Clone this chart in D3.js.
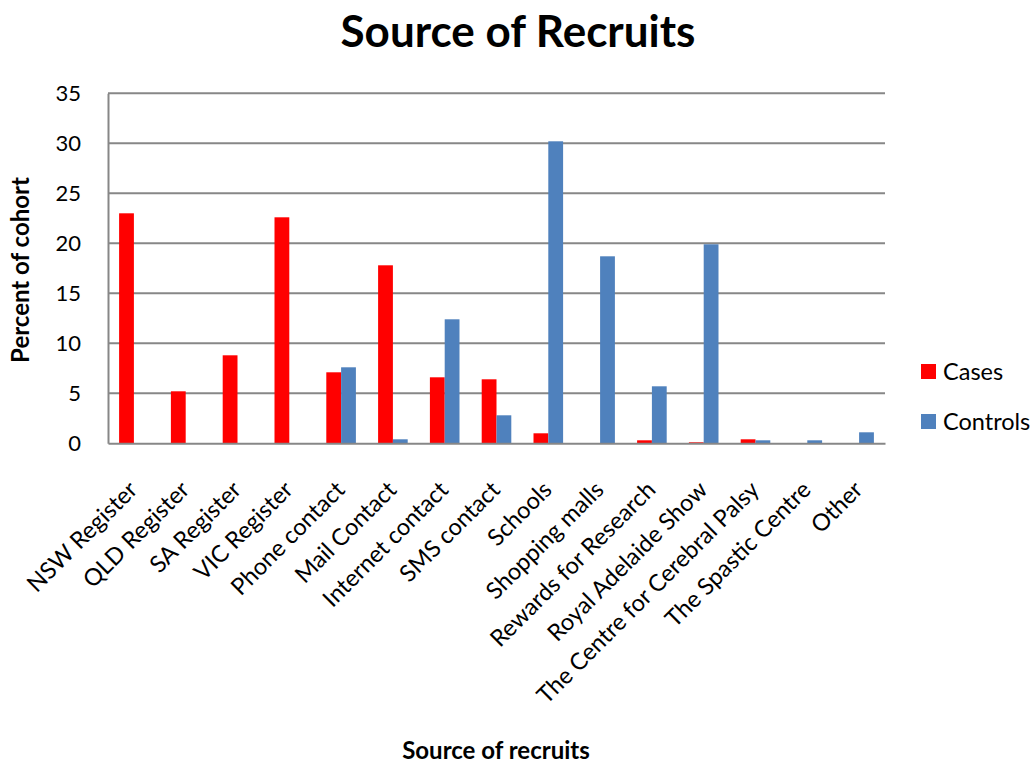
<!DOCTYPE html>
<html>
<head>
<meta charset="utf-8">
<script src="https://cdn.jsdelivr.net/npm/d3@7"></script>
<style>
  body { margin: 0; background: #fff; }
  svg { display: block; font-family: Lato, "Open Sans", sans-serif; }
</style>
</head>
<body>
<svg id="chart" width="1036" height="763"></svg>
<script>
// Recruitment sources and share of each cohort (%)
const categories = [
  "NSW Register", "QLD Register", "SA Register", "VIC Register",
  "Phone contact", "Mail Contact", "Internet contact", "SMS contact",
  "Schools", "Shopping malls", "Rewards for Research", "Royal Adelaide Show",
  "The Centre for Cerebral Palsy", "The Spastic Centre", "Other"
];
const cases    = [23.0, 5.2, 8.8, 22.6, 7.1, 17.8, 6.6, 6.4, 1.0, 0, 0.3, 0.1, 0.4, 0, 0];
const controls = [0, 0, 0, 0, 7.6, 0.4, 12.4, 2.8, 30.2, 18.7, 5.7, 19.9, 0.3, 0.3, 1.1];
const seriesNames = ["Cases", "Controls"];
const seriesColors = ["#FF0000", "#4F81BD"];
const yTicks = [0, 5, 10, 15, 20, 25, 30, 35];

const svg = d3.select("#chart");
const plot = { left: 108, right: 885, top: 93.3, bottom: 443.3 };

const x = d3.scaleBand()
  .domain(categories)
  .range([plot.left, plot.right])
  .paddingInner(0)
  .paddingOuter(0);

const barW = x.bandwidth() / 3.5;   // gap width of 150% between groups

const y = d3.scaleLinear().domain([0, 35]).range([plot.bottom, plot.top]);

// Horizontal gridlines
svg.append("g")
  .selectAll("line")
  .data(yTicks.filter(d => d > 0))
  .join("line")
  .attr("x1", plot.left).attr("x2", plot.right)
  .attr("y1", d => y(d)).attr("y2", d => y(d))
  .attr("stroke", "#878787").attr("stroke-width", 2);

// Bars
const series = [cases, controls];
series.forEach((vals, si) => {
  svg.append("g")
    .selectAll("rect")
    .data(categories.map((c, i) => ({ c, v: vals[i] })).filter(d => d.v > 0))
    .join("rect")
    .attr("x", d => x(d.c) + x.bandwidth() / 2 - barW + si * barW)
    .attr("width", barW)
    .attr("y", d => y(d.v))
    .attr("height", d => y(0) - y(d.v))
    .attr("fill", seriesColors[si]);
});

// Y axis
const yAxis = svg.append("g")
  .attr("transform", `translate(${plot.left},0)`)
  .call(d3.axisLeft(y).tickValues(yTicks).tickSize(0).tickPadding(27));
yAxis.select(".domain").attr("stroke", "#878787").attr("stroke-width", 2);
yAxis.selectAll("text")
  .attr("font-family", "Lato, sans-serif")
  .attr("font-size", 22).attr("fill", "#000");

// X axis
const xAxis = svg.append("g")
  .attr("transform", `translate(0,${plot.bottom})`)
  .call(d3.axisBottom(x).tickSize(0).tickPadding(0));
xAxis.select(".domain").attr("stroke", "#878787").attr("stroke-width", 2);
xAxis.selectAll("text")
  .attr("font-family", "Lato, sans-serif")
  .attr("font-size", 23.5).attr("fill", "#000")
  .attr("text-anchor", "end")
  .attr("dy", 0)
  .attr("transform", "translate(5,48) rotate(-45)");

// Title
svg.append("text")
  .attr("x", 518).attr("y", 47)
  .attr("text-anchor", "middle")
  .attr("font-size", 44).attr("font-weight", "bold")
  .text("Source of Recruits");

// Axis titles
svg.append("text")
  .attr("transform", "translate(29,270) rotate(-90)")
  .attr("text-anchor", "middle")
  .attr("font-size", 24).attr("font-weight", "bold")
  .text("Percent of cohort");

svg.append("text")
  .attr("x", 496).attr("y", 759)
  .attr("text-anchor", "middle")
  .attr("font-size", 24).attr("font-weight", "bold")
  .text("Source of recruits");

// Legend
const legend = svg.append("g").attr("transform", "translate(921,364)");
seriesNames.forEach((name, i) => {
  const g = legend.append("g").attr("transform", `translate(0,${i * 50})`);
  g.append("rect").attr("width", 15).attr("height", 15).attr("fill", seriesColors[i]);
  g.append("text").attr("x", 22).attr("y", 16)
    .attr("font-size", 23.5).text(name);
});
</script>
</body>
</html>
